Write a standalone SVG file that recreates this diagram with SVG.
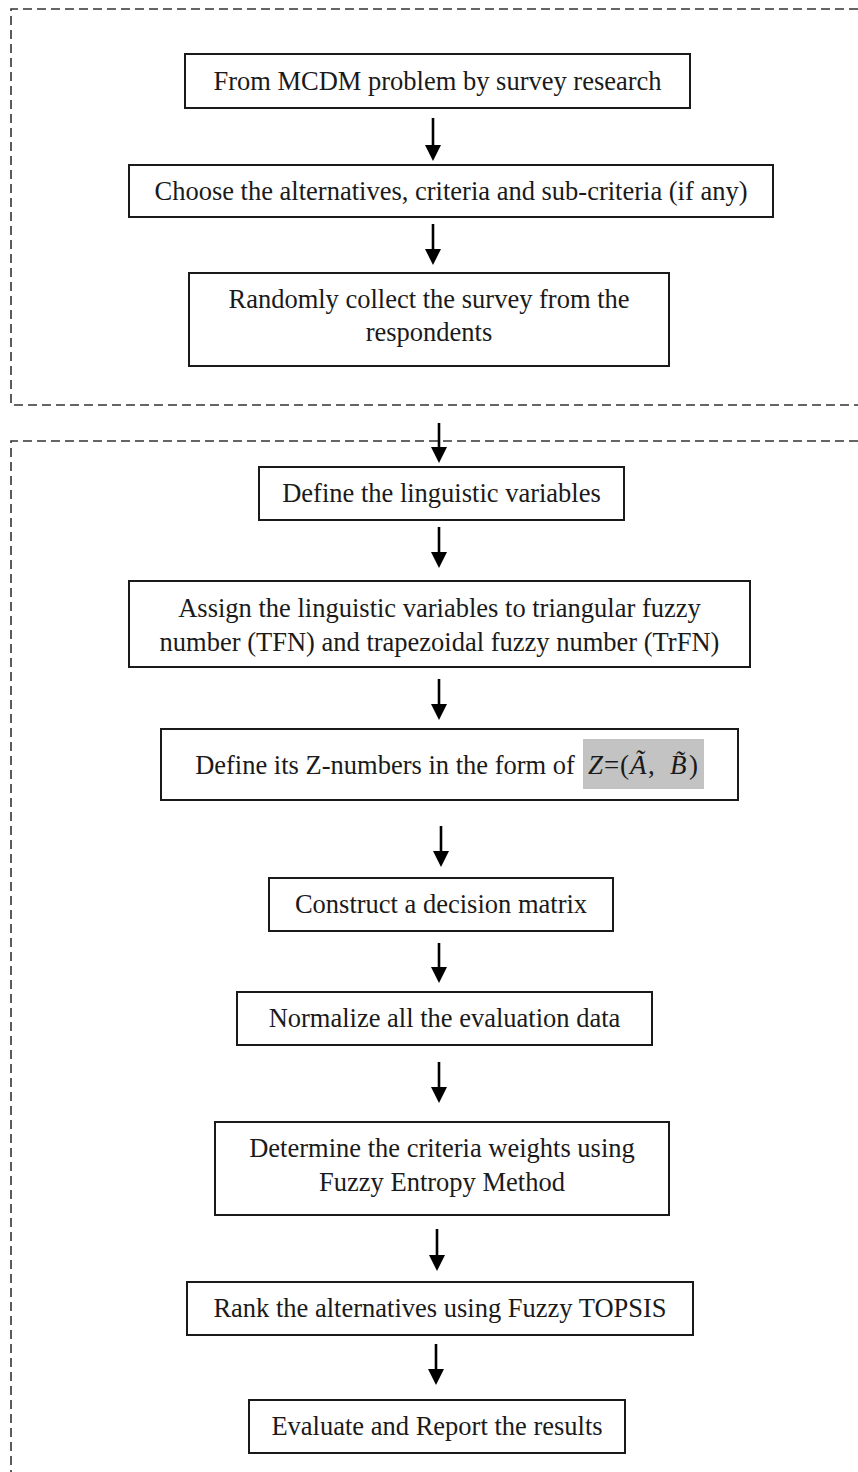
<svg xmlns="http://www.w3.org/2000/svg" width="858" height="1472" viewBox="0 0 858 1472">
<style>
.bg{fill:#fff}
.box{fill:#fff;stroke:#1a1a1a;stroke-width:2}
.t{font-family:"Liberation Serif","Times New Roman",serif;font-size:26.5px;fill:#1a1a1a;text-anchor:middle}
.m{font-family:"Liberation Serif","Times New Roman",serif;font-size:27px;fill:#1a1a1a}
.i{font-style:italic}
.dash{fill:none;stroke:#333;stroke-width:1.6;stroke-dasharray:9 5}
.arr{stroke:#000;stroke-width:2.6;fill:none}
.head{fill:#000}
.hl{fill:#c3c3c3}
</style>
<rect class="bg" x="0" y="0" width="858" height="1472"/>
<g id="regions">
<path class="dash" d="M858,9 H11 V405 H858"/>
<path class="dash" d="M858,441 H11 V1472"/>
</g>
<g id="connectors">
<line class="arr" x1="433" y1="118" x2="433" y2="148"/>
<polygon class="head" points="425,145 441,145 433,161"/>
<line class="arr" x1="433" y1="224" x2="433" y2="251"/>
<polygon class="head" points="425,249 441,249 433,265"/>
<line class="arr" x1="439" y1="423" x2="439" y2="449"/>
<polygon class="head" points="431,447 447,447 439,463"/>
<line class="arr" x1="439" y1="527" x2="439" y2="554"/>
<polygon class="head" points="431,552 447,552 439,568"/>
<line class="arr" x1="439" y1="679" x2="439" y2="706"/>
<polygon class="head" points="431,704 447,704 439,720"/>
<line class="arr" x1="441" y1="826" x2="441" y2="853"/>
<polygon class="head" points="433,851 449,851 441,867"/>
<line class="arr" x1="439" y1="943" x2="439" y2="969"/>
<polygon class="head" points="431,967 447,967 439,983"/>
<line class="arr" x1="439" y1="1062" x2="439" y2="1089"/>
<polygon class="head" points="431,1087 447,1087 439,1103"/>
<line class="arr" x1="437" y1="1229" x2="437" y2="1257"/>
<polygon class="head" points="429,1255 445,1255 437,1271"/>
<line class="arr" x1="436" y1="1344" x2="436" y2="1371"/>
<polygon class="head" points="428,1369 444,1369 436,1385"/>
</g>
<g id="n1"><rect class="box" x="185" y="54" width="505" height="54"/><text class="t" x="437.5" y="90">From MCDM problem by survey research</text></g>
<g id="n2"><rect class="box" x="129" y="165" width="644" height="52"/><text class="t" x="451" y="200">Choose the alternatives, criteria and sub-criteria (if any)</text></g>
<g id="n3"><rect class="box" x="189" y="273" width="480" height="93"/><text class="t" x="429" y="308">Randomly collect the survey from the</text><text class="t" x="429" y="341">respondents</text></g>
<g id="n4"><rect class="box" x="259" y="467" width="365" height="53"/><text class="t" x="441.5" y="502">Define the linguistic variables</text></g>
<g id="n5"><rect class="box" x="129" y="581" width="621" height="86"/><text class="t" x="439.5" y="617">Assign the linguistic variables to triangular fuzzy</text><text class="t" x="439.5" y="651">number (TFN) and trapezoidal fuzzy number (TrFN)</text></g>
<g id="n6"><rect class="box" x="161" y="729" width="577" height="71"/>
<text class="t" x="385" y="774">Define its Z-numbers in the form of</text>
<rect class="hl" x="583" y="739" width="121" height="50"/>
<text class="m" y="774"><tspan class="i" x="588">Z</tspan><tspan x="604">=</tspan><tspan x="620">(</tspan><tspan class="i" x="630">Ã</tspan><tspan x="648">,</tspan><tspan class="i" x="670">B̃</tspan><tspan x="689">)</tspan></text>
</g>
<g id="n7"><rect class="box" x="269" y="878" width="344" height="53"/><text class="t" x="441" y="913">Construct a decision matrix</text></g>
<g id="n8"><rect class="box" x="237" y="992" width="415" height="53"/><text class="t" x="444.5" y="1027">Normalize all the evaluation data</text></g>
<g id="n9"><rect class="box" x="215" y="1122" width="454" height="93"/><text class="t" x="442" y="1157">Determine the criteria weights using</text><text class="t" x="442" y="1191">Fuzzy Entropy Method</text></g>
<g id="n10"><rect class="box" x="187" y="1282" width="506" height="53"/><text class="t" x="440" y="1317">Rank the alternatives using Fuzzy TOPSIS</text></g>
<g id="n11"><rect class="box" x="249" y="1400" width="376" height="53"/><text class="t" x="437" y="1435">Evaluate and Report the results</text></g>
</svg>
